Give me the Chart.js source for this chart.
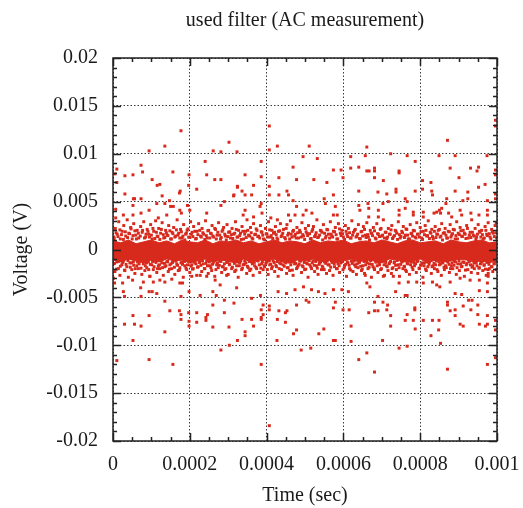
<!DOCTYPE html>
<html>
<head>
<meta charset="utf-8">
<script src="https://cdn.jsdelivr.net/npm/chart.js@4.4.1/dist/chart.umd.min.js"></script>
<style>
  html, body { margin: 0; padding: 0; background: #fff; }
</style>
</head>
<body>
<canvas id="chart" width="523" height="508"></canvas>
<script>
// values: time in microseconds, voltage in millivolts
const xTickValues = [0, 0.0002, 0.0004, 0.0006, 0.0008, 0.001];
const xTickLabels = ["0", "0.0002", "0.0004", "0.0006", "0.0008", "0.001"];
const yTickValues = [-0.02, -0.015, -0.01, -0.005, 0, 0.005, 0.01, 0.015, 0.02];
const yTickLabels = ["-0.02", "-0.015", "-0.01", "-0.005", "0", "0.005", "0.01", "0.015", "0.02"];

// solid core of the trace (upper / lower edge)
const bandTimeUs = [0, 20, 40, 60, 80, 100, 120, 140, 160, 180, 200, 220, 240, 260, 280, 300, 320, 340, 360, 380,
  400, 420, 440, 460, 480, 500, 520, 540, 560, 580, 600, 620, 640, 660, 680, 700, 720, 740, 760, 780,
  800, 820, 840, 860, 880, 900, 920, 940, 960, 980, 1000];
const bandHighMv = [0.9, 0.7, 1.0, 0.6, 0.8, 1.0, 0.7, 0.9, 0.6, 1.0, 0.8, 0.7, 1.0, 0.6, 0.9, 0.8, 1.0, 0.7, 0.9, 0.6,
  0.8, 1.0, 0.7, 0.9, 0.8, 0.6, 1.0, 0.7, 0.9, 0.8, 1.0, 0.6, 0.8, 0.9, 0.7, 1.0, 0.8, 0.6, 0.9, 1.0,
  0.7, 0.8, 0.9, 0.6, 1.0, 0.8, 0.7, 0.9, 1.0, 0.7, 0.8];
const bandLowMv = [-1.1, -1.3, -1.0, -1.2, -1.4, -1.1, -1.3, -1.0, -1.2, -1.1, -1.4, -1.2, -1.0, -1.3, -1.1, -1.2, -1.4, -1.0, -1.3, -1.1,
  -1.2, -1.0, -1.3, -1.4, -1.1, -1.2, -1.0, -1.3, -1.1, -1.4, -1.2, -1.0, -1.3, -1.1, -1.2, -1.4, -1.0, -1.1, -1.3, -1.2,
  -1.0, -1.4, -1.1, -1.3, -1.2, -1.0, -1.1, -1.3, -1.2, -1.4, -1.1];

// scattered samples just around the core
const fringeUpper = [
  [2,1.3],[6,2.2],[11,1.6],[15,2.9],[19,1.1],[24,1.9],[28,2.5],[33,1.4],[37,3.1],[41,1.7],[46,2.3],[50,1.1],[54,2.7],[59,1.5],
  [63,2.0],[67,1.2],[72,2.4],[76,1.8],[80,2.9],[85,1.3],[89,2.1],[93,1.6],[98,2.6],[102,1.1],[106,1.9],[111,3.0],[115,1.4],
  [119,2.2],[124,1.7],[128,2.8],[132,1.2],[137,2.0],[141,1.5],[145,2.5],[150,1.1],[154,1.8],[158,2.3],[163,1.4],[167,3.1],
  [171,1.7],[176,2.1],[180,1.2],[184,2.6],[189,1.6],[193,2.0],[197,1.3],[202,2.9],[206,1.8],[210,2.4],[215,1.1],[219,1.9],
  [223,2.7],[228,1.4],[232,2.2],[236,1.6],[241,3.0],[245,1.2],[249,2.0],[254,1.7],[258,2.5],[262,1.3],[267,2.1],[271,1.5],
  [275,2.8],[280,1.1],[284,1.9],[288,2.3],[293,1.4],[297,2.6],[301,1.8],[306,1.2],[310,2.2],[314,1.6],[319,2.9],[323,1.3],
  [327,2.0],[332,1.7],[336,2.4],[340,1.1],[345,1.9],[349,3.1],[353,1.5],[358,2.3],[362,1.2],[366,2.7],[371,1.6],[375,2.0],
  [379,1.4],[384,2.5],[388,1.8],[392,1.1],[397,2.2],[401,1.6],[405,2.9],[410,1.3],[414,2.0],[418,1.7],[423,2.4],[427,1.2],
  [431,1.9],[436,2.7],[440,1.5],[444,2.1],[449,1.1],[453,2.6],[457,1.7],[462,3.0],[466,1.3],[470,2.0],[475,1.6],[479,2.3],
  [483,1.2],[488,1.8],[492,2.8],[496,1.4],[501,2.2],[505,1.7],[509,2.5],[514,1.1],[518,1.9],[522,2.4],[527,1.5],[531,3.1],
  [535,1.3],[540,2.0],[544,1.8],[548,2.6],[553,1.2],[557,2.1],[561,1.6],[566,2.9],[570,1.4],[574,1.9],[579,2.3],[583,1.1],
  [587,2.7],[592,1.7],[596,2.0],[600,1.3],[605,2.5],[609,1.6],[613,2.2],[618,1.2],[622,3.0],[626,1.8],[631,2.1],[635,1.4],
  [639,2.6],[644,1.1],[648,1.9],[652,2.4],[657,1.5],[661,2.8],[665,1.3],[670,2.0],[674,1.7],[678,2.3],[683,1.2],[687,2.7],
  [691,1.6],[696,2.1],[700,1.4],[704,3.1],[709,1.8],[713,1.1],[717,2.2],[722,1.6],[726,2.5],[730,1.3],[735,2.0],[739,1.7],
  [743,2.9],[748,1.2],[752,1.9],[756,2.4],[761,1.5],[765,2.1],[769,1.1],[774,2.6],[778,1.7],[782,2.0],[787,1.3],[791,2.8],
  [795,1.6],[800,2.3],[804,1.2],[808,1.9],[813,2.5],[817,1.4],[821,3.0],[826,1.8],[830,2.1],[834,1.1],[839,2.4],[843,1.6],
  [847,2.0],[852,1.3],[856,2.7],[860,1.7],[865,2.2],[869,1.2],[873,1.9],[878,2.6],[882,1.5],[886,2.1],[891,1.1],[895,2.9],
  [899,1.7],[904,2.3],[908,1.4],[912,2.0],[917,1.6],[921,2.5],[925,1.2],[930,1.8],[934,3.1],[938,1.5],[943,2.2],[947,1.3],
  [951,2.6],[956,1.8],[960,2.0],[964,1.1],[969,2.4],[973,1.6],[977,2.8],[982,1.3],[986,2.1],[990,1.7],[995,2.5],[999,1.2]
];
const fringeUpperInner = [
  [3,1.15],[8,1.75],[13,1.35],[18,2.05],[22,1.55],[27,1.05],[32,1.85],[38,1.25],[43,1.65],[47,2.15],
  [52,1.45],[57,1.95],[61,1.1],[66,1.7],[71,1.4],[77,2.0],[82,1.2],[86,1.6],[91,1.9],[95,1.3],
  [100,1.5],[104,2.2],[109,1.15],[113,1.8],[117,1.35],[122,1.05],[126,2.1],[131,1.55],[135,1.25],[139,1.75],
  [143,1.45],[148,1.95],[152,1.1],[156,1.65],[161,1.3],[165,2.05],[169,1.5],[174,1.2],[178,1.85],[182,1.4],
  [187,1.0],[191,1.7],[195,2.15],[200,1.25],[204,1.6],[208,1.35],[213,1.9],[217,1.15],[221,1.55],[226,2.0],
  [230,1.3],[234,1.75],[239,1.05],[243,1.45],[247,1.95],[252,1.2],[256,1.65],[260,1.4],[265,2.2],[269,1.1],
  [273,1.8],[278,1.5],[282,1.25],[286,2.05],[291,1.6],[295,1.0],[299,1.35],[304,1.85],[308,1.55],[312,1.15],
  [317,1.7],[321,2.1],[325,1.3],[330,1.45],[334,1.05],[338,1.9],[343,1.6],[347,1.25],[351,2.0],[356,1.4],
  [360,1.75],[364,1.1],[369,1.55],[373,2.15],[377,1.35],[382,1.2],[386,1.85],[390,1.5],[395,1.0],[399,1.65],
  [403,1.3],[408,2.05],[412,1.45],[416,1.15],[421,1.8],[425,1.55],[429,1.05],[434,1.95],[438,1.35],[442,1.7],
  [447,1.25],[451,2.2],[455,1.5],[460,1.1],[464,1.6],[468,1.9],[473,1.4],[477,1.2],[481,1.75],[486,2.0],
  [490,1.3],[494,1.55],[499,1.05],[503,1.85],[507,1.45],[512,1.65],[516,1.15],[520,2.1],[525,1.35],[529,1.75],
  [533,1.25],[538,1.5],[542,1.95],[546,1.0],[551,1.7],[555,1.4],[559,2.05],[564,1.2],[568,1.6],[572,1.3],
  [577,1.85],[581,1.55],[585,1.1],[590,2.15],[594,1.45],[598,1.65],[603,1.05],[607,1.9],[611,1.35],[616,1.75],
  [620,1.2],[624,1.5],[629,2.0],[633,1.3],[637,1.6],[642,1.15],[646,1.85],[650,1.4],[655,2.1],[659,1.25],
  [663,1.55],[668,1.0],[672,1.7],[676,1.45],[681,1.95],[685,1.1],[689,1.65],[694,1.35],[698,2.2],[702,1.5],
  [707,1.2],[711,1.8],[715,1.3],[720,1.6],[724,2.05],[728,1.15],[733,1.45],[737,1.9],[741,1.05],[746,1.55],
  [750,1.35],[754,1.75],[759,1.25],[763,2.15],[767,1.5],[772,1.1],[776,1.65],[780,1.4],[785,1.95],[789,1.2],
  [793,1.6],[798,1.3],[802,1.85],[806,1.05],[811,1.55],[815,2.0],[819,1.45],[824,1.15],[828,1.7],[832,1.35],
  [837,1.9],[841,1.25],[845,1.6],[850,2.1],[854,1.4],[858,1.0],[863,1.75],[867,1.5],[871,1.2],[876,1.85],
  [880,1.3],[884,1.65],[889,2.05],[893,1.45],[897,1.1],[902,1.55],[906,1.95],[910,1.35],[915,1.7],[919,1.15],
  [923,2.2],[928,1.5],[932,1.25],[936,1.8],[941,1.4],[945,1.05],[949,1.6],[954,1.9],[958,1.3],[962,1.55],
  [967,1.2],[971,2.0],[975,1.45],[980,1.65],[984,1.1],[988,1.85],[993,1.35],[997,1.75]
];
const fringeLower = [
  [1,-1.5],[5,-2.3],[10,-1.3],[14,-2.0],[18,-2.7],[23,-1.6],[27,-1.2],[31,-2.2],[36,-1.8],[40,-2.9],[44,-1.4],[49,-2.1],
  [53,-1.3],[57,-2.5],[62,-1.7],[66,-2.0],[70,-1.2],[75,-2.6],[79,-1.5],[83,-2.2],[88,-1.9],[92,-1.3],[96,-2.8],[101,-1.6],
  [105,-2.1],[109,-1.2],[114,-2.4],[118,-1.7],[122,-2.0],[127,-1.4],[131,-2.7],[135,-1.8],[140,-1.3],[144,-2.3],[148,-1.6],
  [153,-2.0],[157,-1.2],[161,-2.6],[166,-1.5],[170,-2.2],[174,-1.9],[179,-1.3],[183,-2.9],[187,-1.7],[192,-2.1],[196,-1.2],
  [200,-2.4],[205,-1.6],[209,-2.0],[213,-1.4],[218,-2.7],[222,-1.8],[226,-1.3],[231,-2.3],[235,-1.5],[239,-2.0],[244,-1.2],
  [248,-2.5],[252,-1.7],[257,-2.2],[261,-1.4],[265,-2.8],[270,-1.6],[274,-1.9],[278,-1.2],[283,-2.4],[287,-1.8],[291,-2.1],
  [296,-1.3],[300,-2.6],[304,-1.5],[309,-2.0],[313,-1.2],[317,-2.3],[322,-1.7],[326,-2.9],[330,-1.4],[335,-2.1],[339,-1.6],
  [343,-1.2],[348,-2.5],[352,-1.9],[356,-2.2],[361,-1.3],[365,-2.7],[369,-1.7],[374,-2.0],[378,-1.2],[382,-2.4],[387,-1.5],
  [391,-2.1],[395,-1.8],[400,-1.3],[404,-2.6],[408,-1.6],[413,-2.0],[417,-1.2],[421,-2.3],[426,-1.8],[430,-2.8],[434,-1.4],
  [439,-2.1],[443,-1.6],[447,-1.2],[452,-2.5],[456,-1.9],[460,-2.2],[465,-1.3],[469,-2.7],[473,-1.5],[478,-2.0],[482,-1.7],
  [486,-1.2],[491,-2.4],[495,-1.8],[499,-2.1],[504,-1.4],[508,-2.9],[512,-1.6],[517,-2.0],[521,-1.2],[525,-2.3],[530,-1.7],
  [534,-2.6],[538,-1.4],[543,-2.1],[547,-1.9],[551,-1.3],[556,-2.5],[560,-1.6],[564,-2.2],[569,-1.2],[573,-2.7],[577,-1.8],
  [582,-2.0],[586,-1.5],[590,-2.4],[595,-1.3],[599,-2.1],[603,-1.7],[608,-2.8],[612,-1.4],[616,-2.0],[621,-1.2],[625,-2.3],
  [629,-1.6],[634,-2.6],[638,-1.9],[642,-1.3],[647,-2.2],[651,-1.7],[655,-2.5],[660,-1.2],[664,-2.0],[668,-1.5],[673,-2.9],
  [677,-1.8],[681,-2.1],[686,-1.3],[690,-2.4],[694,-1.6],[699,-2.0],[703,-1.2],[707,-2.7],[712,-1.7],[716,-2.2],[720,-1.4],
  [725,-2.5],[729,-1.9],[733,-1.3],[738,-2.1],[742,-1.6],[746,-2.8],[751,-1.2],[755,-2.0],[759,-1.8],[764,-2.3],[768,-1.5],
  [772,-2.6],[777,-1.3],[781,-2.1],[785,-1.7],[790,-2.4],[794,-1.2],[798,-2.0],[803,-1.6],[807,-2.9],[811,-1.4],[816,-2.2],
  [820,-1.8],[824,-1.3],[829,-2.5],[833,-1.7],[837,-2.0],[842,-1.2],[846,-2.3],[850,-1.6],[855,-2.7],[859,-1.4],[863,-2.1],
  [868,-1.9],[872,-1.3],[876,-2.4],[881,-1.7],[885,-2.0],[889,-1.2],[894,-2.6],[898,-1.5],[902,-2.2],[907,-1.8],[911,-1.3],
  [915,-2.8],[920,-1.6],[924,-2.1],[928,-1.2],[933,-2.4],[937,-1.7],[941,-2.0],[946,-1.4],[950,-2.5],[954,-1.9],[959,-1.3],
  [963,-2.2],[967,-1.6],[972,-2.7],[976,-1.2],[980,-2.0],[985,-1.8],[989,-2.3],[993,-1.5],[998,-2.1]
];
const fringeLowerInner = [
  [4,-1.45],[9,-2.05],[14,-1.25],[19,-1.75],[25,-1.35],[30,-2.15],[34,-1.55],[39,-1.15],[45,-1.85],[48,-1.4],
  [54,-1.65],[58,-2.0],[64,-1.3],[68,-1.5],[73,-1.95],[78,-1.2],[84,-1.7],[87,-1.4],[93,-2.1],[97,-1.55],
  [103,-1.25],[107,-1.8],[112,-1.35],[116,-2.0],[121,-1.6],[125,-1.15],[129,-1.9],[134,-1.45],[138,-1.7],[142,-1.25],
  [147,-2.05],[151,-1.5],[155,-1.35],[160,-1.85],[164,-1.2],[168,-1.65],[173,-2.15],[177,-1.4],[181,-1.55],[186,-1.25],
  [190,-1.95],[194,-1.6],[199,-1.3],[203,-1.75],[207,-2.05],[212,-1.2],[216,-1.5],[220,-1.85],[225,-1.35],[229,-1.65],
  [233,-1.15],[238,-2.0],[242,-1.45],[246,-1.7],[251,-1.3],[255,-1.9],[259,-1.55],[264,-1.2],[268,-2.1],[272,-1.4],
  [277,-1.65],[281,-1.25],[285,-1.8],[290,-1.5],[294,-2.0],[298,-1.35],[303,-1.6],[307,-1.15],[311,-1.85],[316,-1.45],
  [320,-2.15],[324,-1.3],[329,-1.7],[333,-1.2],[337,-1.95],[342,-1.55],[346,-1.4],[350,-1.75],[355,-1.25],[359,-2.05],
  [363,-1.5],[368,-1.35],[372,-1.85],[376,-1.15],[381,-1.6],[385,-1.95],[389,-1.3],[394,-1.7],[398,-1.45],[402,-2.1],
  [407,-1.2],[411,-1.55],[415,-1.8],[420,-1.35],[424,-1.65],[428,-1.25],[433,-2.0],[437,-1.5],[441,-1.15],[446,-1.75],
  [450,-1.4],[454,-1.9],[459,-1.3],[463,-1.6],[467,-2.15],[472,-1.25],[476,-1.45],[480,-1.85],[485,-1.55],[489,-1.2],
  [493,-1.7],[498,-1.35],[502,-2.05],[506,-1.5],[511,-1.15],[515,-1.8],[519,-1.4],[524,-1.65],[528,-1.25],[532,-1.95],
  [537,-1.55],[541,-1.3],[545,-1.75],[550,-2.1],[554,-1.45],[558,-1.2],[563,-1.6],[567,-1.85],[571,-1.35],[576,-1.5],
  [580,-1.15],[584,-2.0],[589,-1.7],[593,-1.4],[597,-1.25],[602,-1.9],[606,-1.55],[610,-1.3],[615,-1.65],[619,-2.15],
  [623,-1.45],[628,-1.2],[632,-1.8],[636,-1.5],[641,-1.35],[645,-1.75],[649,-2.05],[654,-1.25],[658,-1.6],[662,-1.4],
  [667,-1.85],[671,-1.15],[675,-1.55],[680,-1.95],[684,-1.3],[688,-1.7],[693,-1.45],[697,-2.1],[701,-1.2],[706,-1.6],
  [710,-1.35],[714,-1.8],[719,-1.5],[723,-1.25],[727,-2.0],[732,-1.4],[736,-1.65],[740,-1.15],[745,-1.9],[749,-1.55],
  [753,-1.3],[758,-1.75],[762,-2.15],[766,-1.45],[771,-1.2],[775,-1.6],[779,-1.85],[784,-1.35],[788,-1.5],[792,-1.25],
  [797,-1.95],[801,-1.65],[805,-1.4],[810,-1.7],[814,-2.05],[818,-1.3],[823,-1.55],[827,-1.15],[831,-1.8],[836,-1.45],
  [840,-1.6],[844,-2.1],[849,-1.25],[853,-1.5],[857,-1.35],[862,-1.85],[866,-1.7],[870,-1.2],[875,-1.55],[879,-2.0],
  [883,-1.4],[888,-1.65],[892,-1.3],[896,-1.9],[901,-1.15],[905,-1.5],[909,-1.75],[914,-1.35],[918,-2.15],[922,-1.45],
  [927,-1.25],[931,-1.6],[935,-1.85],[940,-1.4],[944,-1.2],[948,-1.7],[953,-1.95],[957,-1.5],[961,-1.3],[966,-1.65],
  [970,-2.05],[974,-1.35],[979,-1.55],[983,-1.15],[987,-1.8],[992,-1.45],[996,-1.25]
];

// isolated samples further out
const outliersUpper = [
  [177,12.4],[94,10.3],[135,10.8],[10,8.4],[5,7.9],[31,7.7],[52,7.8],[73,8.8],[77,8.1],[10,7.0],[102,7.3],[115,6.7],
  [122,6.8],[156,8.1],[198,7.8],[197,6.7],[175,6.1],[173,5.9],[218,6.3],[240,9.2],[244,7.8],[265,7.3],[281,7.3],[261,10.3],
  [281,10.2],[302,11.2],[323,10.2],[31,5.8],[53,5.3],[56,5.3],[73,5.3],[128,5.6],[147,5.1],[52,4.6],[114,4.8],[135,4.8],
  [150,4.5],[157,4.5],[194,4.6],[200,4.1],[174,4.1],[178,3.8],[281,4.6],[290,5.0],[314,5.6],[324,6.6],[244,3.8],[7,4.2],
  [27,3.6],[52,3.6],[73,3.8],[94,4.1],[7,3.3],[118,3.3],[140,3.6],
  [407,12.9],[407,10.4],[428,10.8],[511,10.8],[495,9.7],[532,9.5],[386,9.2],[469,8.6],[344,7.8],[386,7.6],[432,7.5],
  [478,7.3],[523,7.3],[574,8.3],[594,8.3],[557,7.0],[599,7.5],[619,9.7],[619,8.5],[640,8.6],[657,9.8],[661,10.7],[661,8.2],
  [640,6.1],[324,6.5],[315,5.7],[336,6.1],[344,5.7],[361,5.7],[366,6.7],[407,5.7],[407,6.6],[432,5.7],[453,6.1],[457,5.7],
  [469,5.1],[550,5.3],[553,4.8],[574,5.7],[640,4.6],[643,4.1],[386,4.8],[383,4.5],[478,4.5],[503,4.1],[518,3.8],[579,4.5],
  [584,3.6],[574,3.6],[457,3.6],[474,3.6],[495,3.6],[344,4.1],[339,3.6],[366,3.4],[388,3.8],[411,3.3],[428,3.1],
  [996,13.5],[996,12.9],[871,11.4],[723,10.0],[766,9.8],[787,9.2],[849,9.8],[891,9.8],[974,9.8],[681,8.5],[681,8.2],
  [667,8.2],[681,7.5],[745,8.2],[745,8.0],[704,7.2],[878,8.5],[901,7.5],[931,8.5],[952,8.6],[948,8.2],[996,8.3],[996,7.8],
  [969,6.8],[952,6.5],[996,5.8],[996,5.3],[806,7.2],[806,6.3],[828,7.0],[830,6.1],[832,5.7],[787,6.1],[737,6.3],[737,6.0],
  [690,6.0],[713,5.8],[717,5.0],[664,4.8],[703,4.8],[761,5.3],[766,5.0],[761,4.3],[869,5.3],[867,4.8],[856,4.3],[853,3.8],
  [891,6.1],[911,5.1],[924,6.0],[924,5.3],[975,5.1],[975,4.1],[975,3.6],[953,3.6],[666,4.3],[666,3.4],[691,4.1],[691,3.4],
  [745,4.1],[745,3.6],[782,3.9],[782,3.6],[808,3.9],[808,3.4],[836,3.8],[843,3.9],[850,4.1],[874,3.8],[882,3.4],[904,4.1],
  [908,3.6],[932,3.8],[998,2.8]
];
const outliersLower = [
  [30,-7.8],[56,-7.8],[73,-8.0],[52,-6.9],[94,-6.9],[52,-9.5],[135,-8.6],[148,-6.4],[173,-6.4],[177,-6.8],[177,-7.3],
  [197,-6.6],[198,-7.5],[198,-8.0],[218,-6.6],[218,-7.6],[242,-7.1],[242,-7.4],[246,-6.8],[260,-8.1],[290,-6.6],[302,-8.1],
  [324,-9.5],[303,-10.0],[281,-10.5],[10,-11.6],[94,-11.5],[156,-12.0],[260,-5.8],[290,-5.3],[315,-5.6],[135,-5.4],
  [177,-4.9],[198,-4.4],[30,-4.9],[27,-4.4],[227,-4.8],[73,-4.9],[94,-4.4],[102,-4.4],[114,-4.6],[260,-4.4],[269,-4.8],
  [72,-4.0],[79,-3.4],[96,-2.8],[105,-3.4],[122,-3.2],[135,-3.4],[153,-3.1],[174,-3.5],[181,-3.5],[205,-2.8],[227,-2.7],
  [244,-2.8],[266,-3.2],[279,-3.7],[296,-2.7],[322,-4.0],[4,-3.5],[1,-3.0],[25,-3.5],[51,-3.2],
  [407,-18.4],[386,-12.0],[490,-10.5],[515,-10.3],[427,-9.5],[344,-8.6],[344,-9.0],[366,-8.0],[336,-7.3],[361,-7.3],
  [386,-7.1],[386,-7.3],[391,-6.8],[386,-6.3],[391,-5.8],[407,-5.9],[407,-6.3],[432,-6.4],[449,-6.6],[453,-6.4],[428,-7.3],
  [449,-7.6],[478,-5.8],[470,-8.8],[478,-8.4],[536,-8.8],[549,-8.3],[574,-9.5],[579,-9.5],[574,-6.1],[579,-5.5],[620,-8.0],
  [620,-9.6],[640,-11.5],[661,-10.8],[666,-6.6],[615,-6.3],[599,-6.3],[503,-5.3],[510,-5.5],[361,-5.1],[384,-4.8],
  [430,-4.4],[452,-4.6],[474,-4.2],[496,-3.9],[517,-4.2],[535,-4.4],[552,-4.6],[574,-4.2],[596,-4.2],[613,-4.4],
  [871,-12.5],[681,-12.8],[996,-11.3],[975,-12.0],[745,-10.3],[766,-10.1],[702,-9.5],[853,-9.8],[828,-9.0],[848,-8.4],
  [787,-8.3],[723,-8.0],[761,-7.4],[782,-7.4],[808,-7.4],[832,-7.4],[849,-7.4],[723,-6.9],[766,-6.8],[786,-6.1],[786,-6.3],
  [681,-6.4],[690,-6.4],[713,-6.3],[681,-5.5],[690,-4.9],[703,-5.5],[715,-5.8],[878,-6.4],[891,-6.3],[891,-6.9],[904,-7.8],
  [912,-8.0],[912,-5.9],[932,-6.3],[950,-5.8],[950,-6.8],[954,-7.8],[970,-8.0],[975,-6.9],[975,-7.8],[996,-7.4],[996,-8.4],
  [871,-5.5],[871,-5.8],[891,-4.6],[908,-4.7],[926,-5.3],[935,-5.3],[954,-4.3],[975,-4.4],[975,-3.5],[954,-3.2],[736,-4.4],
  [761,-4.8],[766,-4.8],[808,-3.5],[832,-3.4],[843,-3.7],[851,-3.9],[661,-3.5],[657,-2.7],[669,-3.9],[704,-2.8],[730,-2.8],
  [745,-3.5],[769,-3.4],[791,-3.4],[878,-3.4],[904,-3.0],[930,-3.2],[977,-2.8],[977,-2.5],[977,-2.1]
];

const RED = "#d7291c";
const FONT = { family: "'Liberation Serif', 'DejaVu Serif', serif", size: 20 };
const TEXT = "#1a1a1a";

const toXY = pairs => pairs.map(([t, v]) => ({ x: t * 1e-6, y: v * 1e-3 }));
const bandEdge = vals => bandTimeUs.map((t, i) => ({ x: t * 1e-6, y: vals[i] * 1e-3 }));

const pointStyle = {
    type: "scatter",
    pointStyle: "rect",
    pointRadius: 2.1,
    pointBorderWidth: 0,
    pointBackgroundColor: RED,
    showLine: false,
};

// gnuplot-like frame with inward major/minor ticks on all sides
const frameTicks = {
    id: "frameTicks",
    afterDatasetsDraw(chart) {
        const { ctx, chartArea: a, scales: { x, y } } = chart;
        ctx.save();
        ctx.strokeStyle = "#222";
        ctx.lineWidth = 1.5;
        ctx.beginPath();
        for (let i = 0; i <= 20; i++) {
            const px = Math.round(x.getPixelForValue(i * 0.00005)) + 0.5;
            const len = i % 4 === 0 ? 8 : 4;
            ctx.moveTo(px, a.bottom); ctx.lineTo(px, a.bottom - len);
            ctx.moveTo(px, a.top); ctx.lineTo(px, a.top + len);
        }
        for (let i = -20; i <= 20; i++) {
            const py = Math.round(y.getPixelForValue(i * 0.001)) + 0.5;
            const len = i % 5 === 0 ? 8 : 4;
            ctx.moveTo(a.left, py); ctx.lineTo(a.left + len, py);
            ctx.moveTo(a.right, py); ctx.lineTo(a.right - len, py);
        }
        ctx.stroke();
        ctx.strokeRect(a.left, a.top, a.right - a.left, a.bottom - a.top);
        ctx.restore();
    }
};

new Chart(document.getElementById("chart"), {
    type: "scatter",
    data: {
        datasets: [
            {
                type: "line",
                data: bandEdge(bandHighMv),
                borderColor: RED,
                borderWidth: 1,
                backgroundColor: RED,
                pointRadius: 0,
                fill: "+1",
                tension: 0,
            },
            {
                type: "line",
                data: bandEdge(bandLowMv),
                borderColor: RED,
                borderWidth: 1,
                pointRadius: 0,
                fill: false,
                tension: 0,
            },
            { ...pointStyle, data: toXY(fringeUpper) },
            { ...pointStyle, data: toXY(fringeUpperInner) },
            { ...pointStyle, data: toXY(fringeLower) },
            { ...pointStyle, data: toXY(fringeLowerInner) },
            { ...pointStyle, data: toXY(outliersUpper) },
            { ...pointStyle, data: toXY(outliersLower) },
        ],
    },
    options: {
        responsive: false,
        animation: false,
        events: [],
        layout: { padding: { left: 0, right: 26, top: 0, bottom: 0 } },
        plugins: {
            legend: { display: false },
            tooltip: { enabled: false },
            title: {
                display: true,
                fullSize: false,
                text: "used filter (AC measurement)",
                color: TEXT,
                font: { ...FONT, weight: "normal" },
                padding: { top: 9, bottom: 25 },
            },
        },
        scales: {
            x: {
                type: "linear",
                min: 0,
                max: 0.001,
                afterBuildTicks: s => { s.ticks = xTickValues.map(v => ({ value: v })); },
                afterFit: s => { s.height = 67; s.paddingLeft = 0; s.paddingRight = 0; },
                ticks: {
                    callback: (v, i) => xTickLabels[i],
                    color: TEXT,
                    font: FONT,
                    padding: 12,
                    maxRotation: 0,
                    autoSkip: false,
                },
                grid: { color: "#3a3a3a", lineWidth: 1, drawTicks: false },
                border: { display: false, dash: [1.5, 2] },
                title: { display: true, text: "Time (sec)", color: TEXT, font: FONT, padding: { top: 7, bottom: 0 } },
            },
            y: {
                type: "linear",
                min: -0.02,
                max: 0.02,
                afterBuildTicks: s => { s.ticks = yTickValues.map(v => ({ value: v })); },
                afterFit: s => { s.width = 113; s.paddingTop = 0; s.paddingBottom = 0; },
                ticks: {
                    callback: (v, i) => yTickLabels[i],
                    color: TEXT,
                    font: FONT,
                    padding: 15,
                    autoSkip: false,
                },
                grid: { color: "#3a3a3a", lineWidth: 1, drawTicks: false },
                border: { display: false, dash: [1.5, 2] },
                title: { display: true, text: "Voltage (V)", color: TEXT, font: FONT, padding: { top: 10, bottom: 0 } },
            },
        },
    },
    plugins: [frameTicks],
});
</script>
</body>
</html>
